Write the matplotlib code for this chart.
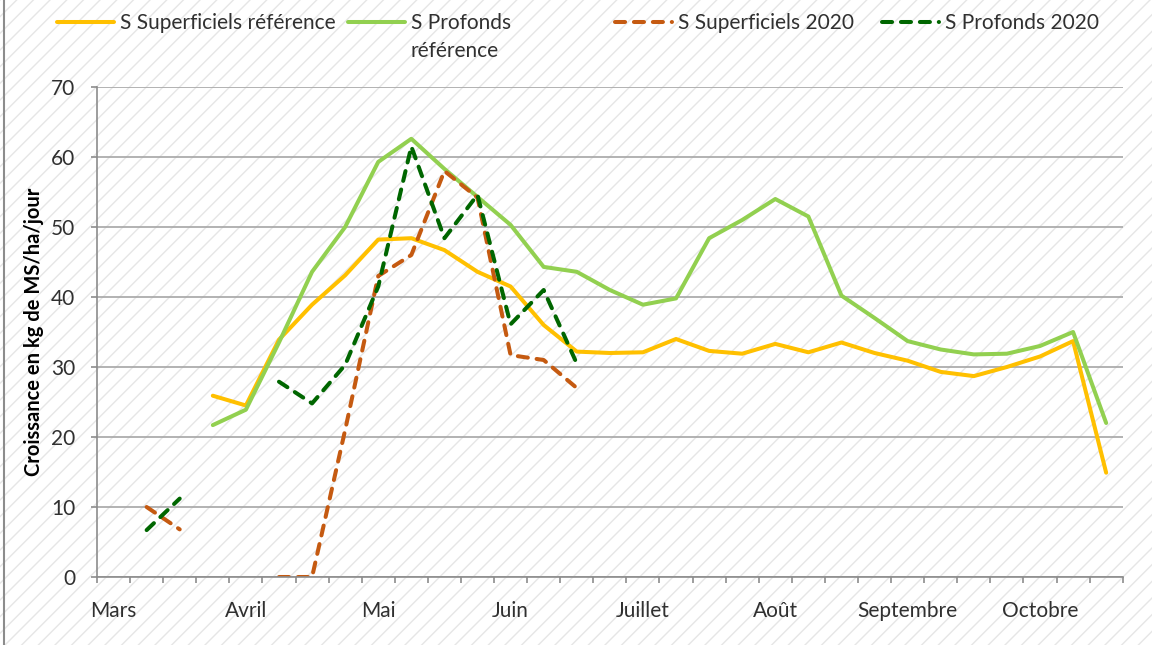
import numpy as np
import matplotlib
matplotlib.use('Agg')
import matplotlib.pyplot as plt
from matplotlib.patches import Rectangle
from matplotlib.lines import Line2D

nan = np.nan

# 31 périodes (semaines) de mars à fin octobre, un libellé toutes les 4
mois = ['Mars', 'Avril', 'Mai', 'Juin', 'Juillet', 'Août', 'Septembre', 'Octobre']
n_periodes = 31

sup_ref = [nan, nan, nan, 25.9, 24.5, 33.9, 38.9, 43.1, 48.2, 48.4, 46.7,
           43.6, 41.5, 36.0, 32.2, 32.0, 32.1, 34.0, 32.3, 31.9, 33.3,
           32.1, 33.5, 32.0, 30.9, 29.3, 28.7, 30.0, 31.5, 33.7, 14.9]
pro_ref = [nan, nan, nan, 21.7, 23.9, 33.5, 43.6, 50.0, 59.3, 62.6, 58.3,
           54.3, 50.3, 44.3, 43.6, 41.0, 38.9, 39.8, 48.4, 51.0, 54.0,
           51.5, 40.2, 37.0, 33.7, 32.5, 31.8, 31.9, 33.0, 35.0, 22.0]
sup_2020 = [nan, 10.0, 6.8, nan, nan, 0.0, 0.0, 21.0, 43.0, 46.0, 58.0,
            54.2, 31.7, 31.0, 27.0] + [nan] * 16
pro_2020 = [nan, 6.7, 11.2, nan, nan, 27.9, 24.8, 30.3, 41.5, 61.5, 48.4,
            54.6, 36.1, 41.0, 30.5] + [nan] * 16

plt.rcParams['font.family'] = ['Lato', 'DejaVu Sans']

W, H = 1152, 645
fig = plt.figure(figsize=(W / 100, H / 100), dpi=100)
fig.patch.set_facecolor('white')

# fond hachuré de la zone graphique
bg = Rectangle((0, 0), 1, 1, transform=fig.transFigure, facecolor='white',
               edgecolor='#E6E6E6', hatch='//', lw=0, zorder=-10)
fig.add_artist(bg)
fig.add_artist(Line2D([4 / W, 4 / W], [0, 1], transform=fig.transFigure,
                      color='#8C8C8C', lw=1.5))

ax = fig.add_axes([97 / W, 1 - 577 / H, (1122.7 - 97) / W, (577 - 87) / H])
ax.set_facecolor('none')

x = np.arange(n_periodes)
l1, = ax.plot(x, sup_ref, color='#FFC000', lw=2.9,
              solid_capstyle='round', solid_joinstyle='round')
l2, = ax.plot(x, pro_ref, color='#92D050', lw=2.9,
              solid_capstyle='round', solid_joinstyle='round')
l3, = ax.plot(x, sup_2020, color='#C55A11', lw=2.9, dashes=(2.5, 2.2),
              dash_capstyle='round', dash_joinstyle='round')
l4, = ax.plot(x, pro_2020, color='#006600', lw=2.9, dashes=(2.5, 2.2),
              dash_capstyle='round', dash_joinstyle='round')

ax.set_xlim(-0.5, n_periodes - 0.5)
ax.set_ylim(0, 70)
ax.set_yticks(range(0, 71, 10))
ax.yaxis.grid(True, color='#A6A6A6', lw=1.2)
ax.set_axisbelow(True)

fs = 15

# graduations aux limites de catégories, libellés des mois au centre
ax.set_xticks(np.arange(-0.5, n_periodes, 1.0))
ax.set_xticklabels([])
ax.set_xticks(np.arange(0, n_periodes, 4), minor=True)
ax.set_xticklabels(mois, minor=True)
ax.tick_params(axis='x', which='major', length=4.5, width=1.2, color='#8C8C8C')
ax.tick_params(axis='x', which='minor', length=0, pad=17, labelsize=fs,
               labelcolor='#303030')
ax.tick_params(axis='y', length=4.5, width=1.2, color='#8C8C8C', pad=11,
               labelsize=fs, labelcolor='#303030')

for s in ['top', 'right']:
    ax.spines[s].set_visible(False)
for s in ['left', 'bottom']:
    ax.spines[s].set_color('#8C8C8C')
    ax.spines[s].set_linewidth(1.2)

ax.set_ylabel('Croissance en kg de MS/ha/jour', fontsize=14.5,
              fontweight='bold', color='black')
ax.yaxis.set_label_coords((44 - 97) / (1122.7 - 97), 0.5)

# légende en haut, une entrée par bloc comme dans Excel
fs_px = fs * 100 / 72
hl, htp = 57 / fs_px, 6 / fs_px
entries = [(l1, 'S Superficiels référence', 57),
           (l2, 'S Profonds', 348),
           (l3, 'S Superficiels 2020', 615),
           (l4, 'S Profonds 2020', 882)]
for handle, label, x0 in entries:
    leg = fig.legend([handle], [label], loc='center left',
                     bbox_to_anchor=(x0 / W, 1 - 23 / H), frameon=False,
                     fontsize=fs, handlelength=hl, handletextpad=htp,
                     borderpad=0, borderaxespad=0)
    for t in leg.get_texts():
        t.set_color('#303030')
fig.text((348 + (hl + htp) * fs_px) / W, 1 - 51 / H, 'référence',
         fontsize=fs, color='#303030', va='center', ha='left')

fig.savefig('out.png', dpi=100)
